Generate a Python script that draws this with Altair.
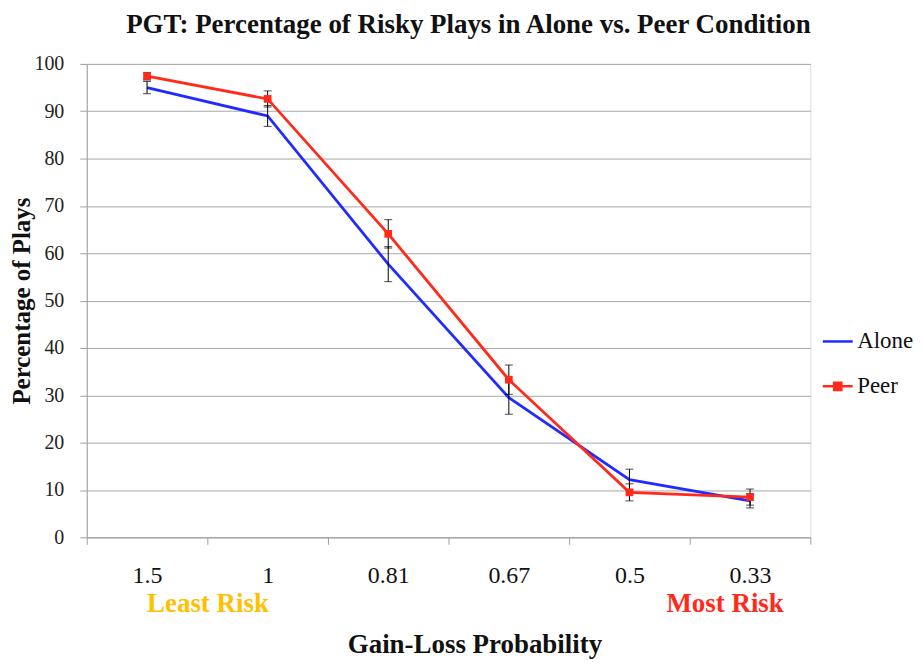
import json
import altair as alt
import pandas as pd

categories = ["1.5", "1", "0.81", "0.67", "0.5", "0.33"]
alone = [95.0, 89.0, 57.7, 29.5, 12.2, 7.7]
alone_err = [1.3, 2.2, 3.7, 3.5, 2.2, 1.5]
peer = [97.4, 92.6, 64.1, 33.3, 9.5, 8.5]
peer_err = [0.8, 1.7, 3.0, 3.1, 1.8, 1.7]
series = ["Alone", "Peer"]
series_colors = ["#1f2bff", "#ff2a1a"]
risk_notes = ["Least Risk", "Most Risk"]
risk_colors = ["#ffc000", "#ff2a1a"]

FONT = "Liberation Serif"
W, H = 726, 475

rows = []
for i, c in enumerate(categories):
    for s, vals, errs in (("Alone", alone, alone_err), ("Peer", peer, peer_err)):
        rows.append({"pos": i + 0.5, "cat": c, "series": s, "value": vals[i],
                     "lo": vals[i] - errs[i], "hi": vals[i] + errs[i]})
df = pd.DataFrame(rows)

notes_df = pd.DataFrame({"pos": [0.5, 5.5], "note": risk_notes})

label_expr = f"datum.value < 6 ? {json.dumps(categories)}[datum.value] : ''"
x_enc = alt.X("pos:Q", scale=alt.Scale(domain=[0, 6], nice=False, zero=False),
              axis=alt.Axis(values=[0, 1, 2, 3, 4, 5, 6], labelExpr=label_expr,
                            labelOffset=W / 12, labelFlush=False, grid=False, tickSize=7,
                            tickColor="#a0a0a0", domainColor="#a0a0a0",
                            labelFont=FONT, labelFontSize=24, labelColor="#111",
                            labelPadding=19, title="Gain-Loss Probability",
                            titleFont=FONT, titleFontSize=27, titleFontWeight="bold",
                            titleColor="#111", titleX=389, titleY=108,
                            titleBaseline="middle", titleAlign="center"))
y_enc = alt.Y("value:Q", scale=alt.Scale(domain=[0, 100], nice=False),
              axis=alt.Axis(values=list(range(0, 101, 10)), tickSize=7,
                            tickColor="#a0a0a0", domainColor="#a0a0a0",
                            gridColor="#a8a8a8", gridWidth=1,
                            labelFont=FONT, labelFontSize=20, labelColor="#222",
                            labelPadding=16, title="Percentage of Plays",
                            titleFont=FONT, titleFontSize=25, titleFontWeight="bold",
                            titleColor="#111", titleX=-65, titleY=H / 2,
                            titleBaseline="middle", titleAlign="center", titleAngle=-90))

stroke_scale = alt.Scale(domain=series, range=series_colors)

legend = alt.Legend(title=None, orient="none", legendX=737, legendY=262,
                    labelFont=FONT, labelFontSize=23, labelColor="#111",
                    symbolSize=900, symbolStrokeWidth=2.5, rowPadding=16,
                    labelOffset=3)

base = alt.Chart(df)

lines = base.mark_line(strokeWidth=2.8).encode(
    x=x_enc, y=y_enc,
    stroke=alt.Stroke("series:N", scale=stroke_scale, legend=legend),
    detail="series:N",
)

err_rule = base.mark_rule(color="black", strokeWidth=1).encode(
    x="pos:Q", y="lo:Q", y2="hi:Q")
err_lo = base.mark_tick(orient="horizontal", size=8, thickness=1, color="black").encode(
    x="pos:Q", y="lo:Q")
err_hi = base.mark_tick(orient="horizontal", size=8, thickness=1, color="black").encode(
    x="pos:Q", y="hi:Q")

markers = base.transform_filter(alt.datum.series == "Peer").mark_point(
    shape="square", filled=True, size=60, opacity=1, color="#ff2a1a").encode(
    x="pos:Q", y="value:Q")

line_path = "M-1,0L1,0"
sq_path = "M-1,0L1,0M-0.24,-0.24L0.24,-0.24L0.24,0.24L-0.24,0.24Z"
legend_layer = base.transform_filter("false").mark_point(
    filled=True, size=900, strokeWidth=2.5, opacity=1).encode(
    x="pos:Q", y="value:Q",
    stroke=alt.Stroke("series:N", scale=stroke_scale, legend=legend),
    fill=alt.Fill("series:N", scale=alt.Scale(domain=series, range=series_colors), legend=legend),
    shape=alt.Shape("series:N", scale=alt.Scale(domain=series, range=[line_path, sq_path]),
                    legend=legend),
)

notes_left = alt.Chart(notes_df.iloc[[0]]).mark_text(
    font=FONT, fontSize=27, fontWeight="bold", baseline="middle", align="left",
    color=risk_colors[0]).encode(
    x="pos:Q", y=alt.value(H + 67), text="note:N")
notes_right = alt.Chart(notes_df.iloc[[1]]).mark_text(
    font=FONT, fontSize=27, fontWeight="bold", baseline="middle", align="center", dx=-25,
    color=risk_colors[1]).encode(
    x="pos:Q", y=alt.value(H + 67), text="note:N")

chart = alt.layer(lines, err_rule, err_lo, err_hi, markers, legend_layer,
                  notes_left, notes_right).properties(
    width=W, height=H,
    title=alt.TitleParams("PGT: Percentage of Risky Plays in Alone vs. Peer Condition",
                          font=FONT, fontSize=27, fontWeight="bold", color="#111",
                          anchor="middle", offset=15, dx=20),
    padding={"left": 2, "top": 2, "right": 0, "bottom": 0},
).configure_view(stroke=None).configure(background="white")

chart.save("out.html", embed_options={"renderer": "svg", "actions": False})
